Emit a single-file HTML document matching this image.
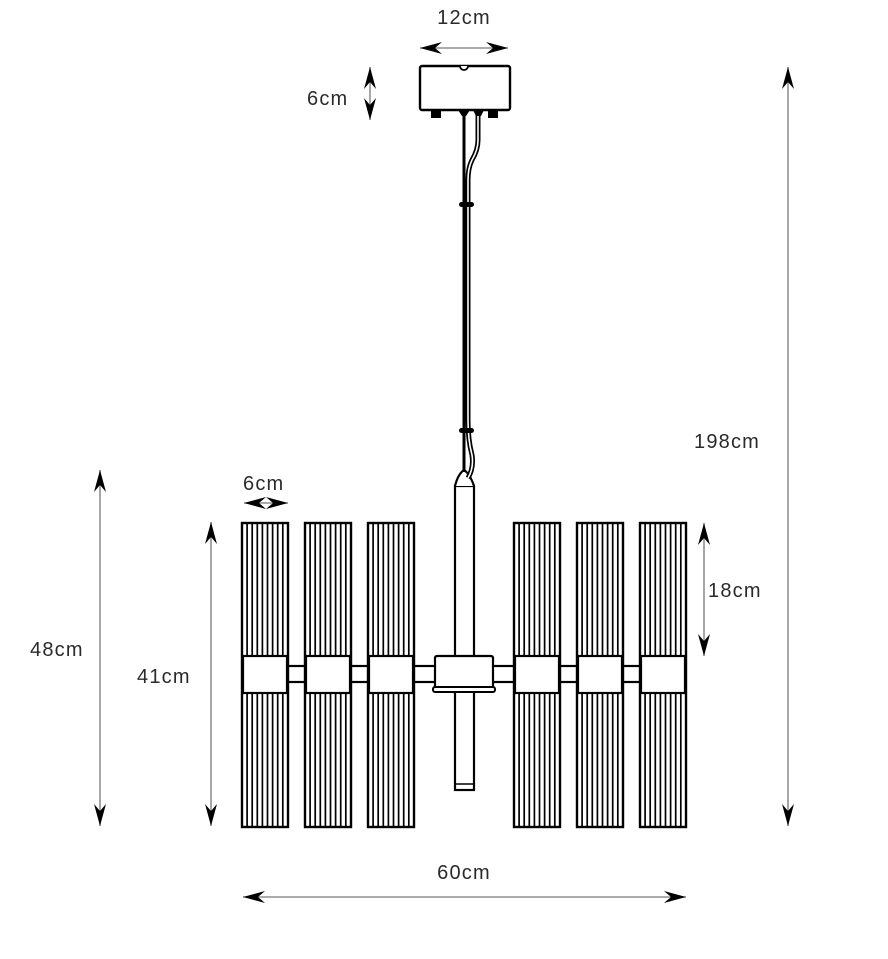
<!DOCTYPE html>
<html><head><meta charset="utf-8"><style>
html,body{margin:0;padding:0;background:#fff;}
svg{display:block;}
text{font-family:"Liberation Sans",sans-serif;font-size:20px;letter-spacing:1.2px;fill:#2a2a2a;}
</style></head><body>
<svg width="888" height="959" viewBox="0 0 888 959" xmlns="http://www.w3.org/2000/svg">
<defs>
<g id="shade" fill="none" stroke="#000">
  <rect x="0" y="0" width="46" height="304" stroke-width="2.4" fill="#fff"/>
  <g stroke-width="1.7">
    <line x1="5.1" y1="0" x2="5.1" y2="304"/><line x1="10.2" y1="0" x2="10.2" y2="304"/>
    <line x1="15.3" y1="0" x2="15.3" y2="304"/><line x1="20.4" y1="0" x2="20.4" y2="304"/>
    <line x1="25.5" y1="0" x2="25.5" y2="304"/><line x1="30.6" y1="0" x2="30.6" y2="304"/>
    <line x1="35.7" y1="0" x2="35.7" y2="304"/><line x1="40.8" y1="0" x2="40.8" y2="304"/>
  </g>
  <rect x="1" y="133" width="44" height="37" fill="#fff" stroke-width="2.2"/>
</g>
<marker id="ah" viewBox="0 0 22 12" refX="22" refY="6" markerWidth="22" markerHeight="12" markerUnits="userSpaceOnUse" orient="auto-start-reverse">
  <path d="M22,6 L0,0 L7,6 L0,12 Z" fill="#000"/>
</marker>
</defs>

<rect x="250" y="666" width="430" height="16" fill="#fff" stroke="#000" stroke-width="2.2"/>

<rect x="455" y="486" width="19" height="304" fill="#fff" stroke="#000" stroke-width="2.2"/>
<line x1="455" y1="784" x2="474" y2="784" stroke="#000" stroke-width="1.5"/>
<path d="M455,486 Q458,474 464,470 Q470,474 474,486" fill="#fff" stroke="#000" stroke-width="2.2"/>

<rect x="435" y="656" width="58" height="34" rx="2" fill="#fff" stroke="#000" stroke-width="2.2"/>
<rect x="433" y="687" width="62" height="5" rx="2" fill="#fff" stroke="#000" stroke-width="2"/>

<use href="#shade" x="242" y="523"/>
<use href="#shade" x="305" y="523"/>
<use href="#shade" x="368" y="523"/>
<use href="#shade" x="514" y="523"/>
<use href="#shade" x="577" y="523"/>
<use href="#shade" x="640" y="523"/>

<line x1="464" y1="112" x2="464" y2="472" stroke="#000" stroke-width="3"/>
<path d="M478,112 L478,140 Q478,150 472,160 Q468,168 468,180 L468,420 Q468,440 472,455 Q474,468 468,478" fill="none" stroke="#000" stroke-width="5"/>
<path d="M478,112 L478,140 Q478,150 472,160 Q468,168 468,180 L468,420 Q468,440 472,455 Q474,468 468,478" fill="none" stroke="#fff" stroke-width="1.6"/>
<rect x="459" y="202" width="15" height="5" rx="2.5" fill="#000"/>
<rect x="459" y="428" width="15" height="5" rx="2.5" fill="#000"/>

<rect x="420" y="66" width="90" height="44" rx="2" fill="#fff" stroke="#000" stroke-width="2.4"/>
<path d="M460,66 A4,4 0 0 0 468,66" fill="#fff" stroke="#000" stroke-width="1.8"/>
<rect x="431" y="109" width="10" height="9" fill="#000"/>
<rect x="488" y="109" width="10" height="9" fill="#000"/>
<path d="M458,110 L462,116 L466,116 L470,110 Z" fill="#000"/>
<path d="M473,110 L476,116 L481,116 L484,110 Z" fill="#000"/>

<g stroke="#777" stroke-width="1.3" marker-start="url(#ah)" marker-end="url(#ah)">
  <line x1="420" y1="48" x2="508" y2="48"/>
  <line x1="370" y1="67" x2="370" y2="120"/>
  <line x1="788" y1="67" x2="788" y2="826"/>
  <line x1="100" y1="470" x2="100" y2="826"/>
  <line x1="211" y1="522" x2="211" y2="826"/>
  <line x1="704" y1="523" x2="704" y2="656"/>
  <line x1="244" y1="503" x2="288" y2="503"/>
  <line x1="243" y1="897" x2="686" y2="897"/>
</g>

<text x="464" y="24" text-anchor="middle">12cm</text>
<text x="307" y="105">6cm</text>
<text x="694" y="448">198cm</text>
<text x="30" y="656">48cm</text>
<text x="137" y="683">41cm</text>
<text x="708" y="597">18cm</text>
<text x="243" y="490">6cm</text>
<text x="464" y="879" text-anchor="middle">60cm</text>
</svg>
</body></html>
